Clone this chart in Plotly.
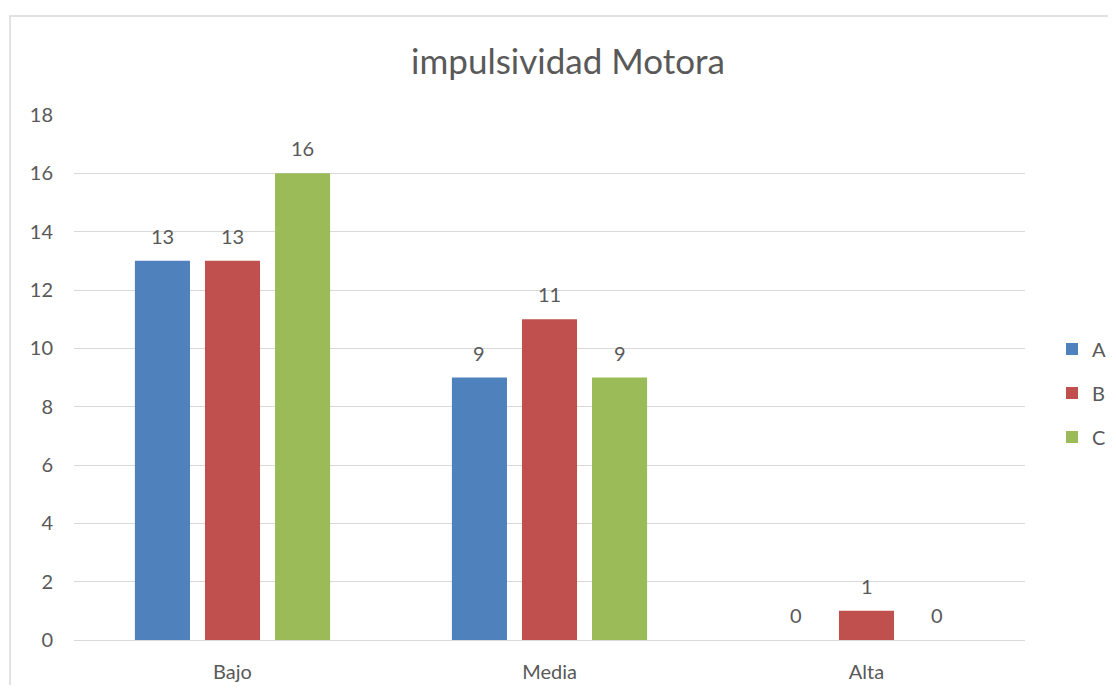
import plotly.graph_objects as go

categories = ["Bajo", "Media", "Alta"]
series_names = ["A", "B", "C"]
values_A = [13, 9, 0]
values_B = [13, 11, 1]
values_C = [16, 9, 0]
colors = ["#4F81BD", "#C0504D", "#9BBB59"]
y_ticks = [0, 2, 4, 6, 8, 10, 12, 14, 16, 18]

FONT = "Lato"
TXT = "#595959"

# page has an 8px body margin; figure sized to fit without scrolling
W, H = 1100, 677
L, R, T, B = 66, 83, 107, 45
pw, ph = W - L - R, H - T - B

BARGAP, GROUPGAP = 0.337, 0.214
slot = pw / len(categories) * (1 - BARGAP) / len(series_names)

fig = go.Figure()
annotations = []
all_vals = [values_A, values_B, values_C]
for i, (name, vals, col) in enumerate(zip(series_names, all_vals, colors)):
    fig.add_trace(go.Bar(
        x=categories, y=vals, name=name, legendgroup=name,
        marker=dict(color=col, line=dict(width=0)),
        hoverinfo="x+y+name",
    ))
    for c, v in zip(categories, vals):
        annotations.append(dict(
            x=c, y=v, xref="x", yref="y", text=str(v), showarrow=False,
            xshift=(i - 1) * slot, yshift=25, yanchor="middle",
            font=dict(family=FONT, size=20, color=TXT)))

fig.update_layout(
    width=W, height=H,
    margin=dict(l=L, r=R, t=T, b=B, autoexpand=False),
    paper_bgcolor="white", plot_bgcolor="white",
    barmode="group", bargap=BARGAP, bargroupgap=GROUPGAP,
    title=dict(text="impulsividad Motora", x=560 / W, xanchor="center",
               y=1 - 54 / H, yanchor="middle", yref="container", xref="container",
               font=dict(family=FONT, size=35, color=TXT)),
    font=dict(family=FONT, size=20, color=TXT),
    legend=dict(x=1044 / W, xanchor="left", xref="container",
                y=1 - 385 / H, yanchor="middle", yref="container",
                font=dict(family=FONT, size=20, color=TXT),
                traceorder="grouped", tracegroupgap=15,
                itemwidth=30),
    showlegend=True,
    annotations=annotations,
    xaxis=dict(showgrid=False, showline=False, ticks="",
               tickfont=dict(family=FONT, size=20, color=TXT),
               ticklabelstandoff=18),
    yaxis=dict(range=[0, 18], tickvals=y_ticks, showgrid=True, gridcolor="#D9D9D9",
               gridwidth=1, zeroline=True, zerolinecolor="#D9D9D9", zerolinewidth=1,
               showline=False, ticks="", ticklabelstandoff=20,
               tickfont=dict(family=FONT, size=20, color=TXT)),
    shapes=[dict(type="rect", xref="paper", yref="paper",
                 x0=(2 - L) / pw, x1=(W + 20 - L) / pw,
                 y0=(T + ph - (H + 20)) / ph, y1=(T + ph - 8) / ph,
                 line=dict(color="#D9D9D9", width=1.5), fillcolor="rgba(0,0,0,0)",
                 layer="below")],
)

fig.write_html("out.html")
